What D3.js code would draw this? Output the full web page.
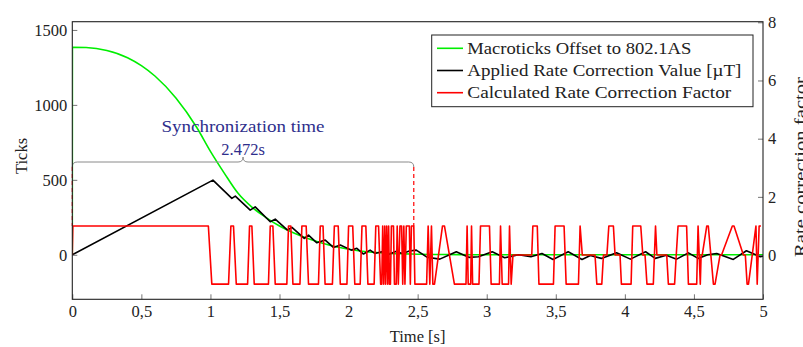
<!DOCTYPE html>
<html>
<head>
<meta charset="utf-8">
<script src="https://cdn.jsdelivr.net/npm/d3@7"></script>
<style>
  html, body { margin: 0; padding: 0; background: #fff; }
  svg { display: block; }
  text { font-family: "Liberation Serif", "DejaVu Serif", serif; fill: #222; }
</style>
</head>
<body>
<svg id="chart" width="803" height="347"></svg>
<script>
// ---------------- DATA ----------------
const xTicks = [0, 0.5, 1, 1.5, 2, 2.5, 3, 3.5, 4, 4.5, 5];
const xTickLabels = ["0", "0,5", "1", "1,5", "2", "2,5", "3", "3,5", "4", "4,5", "5"];
const yLeftTicks = [0, 500, 1000, 1500];
const yRightTicks = [0, 2, 4, 6, 8];

const seriesNames = ["Macroticks Offset to 802.1AS", "Applied Rate Correction Value [µT]", "Calculated Rate Correction Factor"];
const seriesColors = ["#00ee00", "#000000", "#ff0000"];

// Macroticks offset (green), [time s, ticks]
const offsetT = [0, 0.001, 0.1, 0.25, 0.4, 0.5, 0.6, 0.75, 0.9, 1.0, 1.1, 1.2, 1.3, 1.4, 1.5, 1.6, 1.7, 1.8, 1.9, 2.0, 2.1, 2.2, 2.3, 2.4, 2.5, 2.6, 2.8, 3.0, 5.0];
const offsetV = [0, 1385, 1383, 1363, 1315, 1262, 1191, 1046, 851, 690, 545, 410, 318, 250, 192, 147, 110, 80, 55, 37, 24, 15, 9, 6, 4, 2, 1, 0, 0];

// Applied rate correction value (black), [time s, µT]
const appliedT = [0, 1.018, 1.155, 1.18, 1.288, 1.324, 1.433, 1.469, 1.558, 1.59, 1.679, 1.71, 1.77, 1.831, 1.89, 1.94, 2.02, 2.06, 2.108, 2.156, 2.19, 2.24, 2.29, 2.34, 2.39, 2.44, 2.49, 2.57, 2.66, 2.78, 2.87, 2.94, 3.04, 3.13, 3.23, 3.32, 3.40, 3.48, 3.59, 3.69, 3.75, 3.83, 3.94, 4.04, 4.15, 4.22, 4.30, 4.375, 4.46, 4.53, 4.60, 4.665, 4.785, 4.88, 4.98, 5.0];
const appliedV = [0, 498, 376, 391, 298, 320, 220, 238, 165, 183, 109, 131, 80, 98, 49, 65, 31, 43, 5, 31, 9, 20, 2, 22, 8, 25, 31, -17, -29, 20, -17, -13, 20, -20, 0, -13, 9, -31, 20, -31, -5, -24, 13, -29, 20, -24, -3, -29, 13, -24, 0, 9, -31, 27, -13, -10];

// Calculated rate correction factor (red), [time s, factor]
const factorT = [0, 0.004, 0.985, 1.01,
  1.131, 1.148, 1.167, 1.187, 1.269, 1.283, 1.300, 1.317, 1.420, 1.433, 1.452, 1.469,
  1.553, 1.565, 1.582, 1.597, 1.648, 1.662, 1.693, 1.710, 1.782, 1.795, 1.815, 1.830,
  1.883, 1.897, 1.925, 1.940, 1.988, 2.000, 2.030, 2.045, 2.084, 2.097, 2.125, 2.140,
  2.185, 2.197, 2.217, 2.232,
  2.240, 2.247, 2.254, 2.262, 2.268, 2.276, 2.283, 2.290, 2.296, 2.303, 2.310, 2.325, 2.332, 2.345, 2.352, 2.360, 2.372, 2.384, 2.392, 2.400, 2.408, 2.418, 2.440, 2.447, 2.455, 2.472, 2.480,
  2.565, 2.576, 2.588, 2.600, 2.610, 2.622, 2.680, 2.694, 2.766, 2.780, 2.850, 2.858, 2.866, 2.884, 2.890, 2.898,
  2.944, 2.955, 3.020, 3.032, 3.092, 3.100, 3.112, 3.158, 3.165, 3.177, 3.190, 3.326, 3.334, 3.366, 3.378, 3.470, 3.483, 3.495, 3.560, 3.575,
  3.664, 3.676, 3.692, 3.710, 3.784, 3.797, 3.833, 3.845, 3.870, 3.884, 3.917, 3.929, 3.965, 3.975, 4.045, 4.057, 4.115, 4.130, 4.146, 4.160, 4.206, 4.222, 4.232, 4.242, 4.303, 4.315, 4.360, 4.372, 4.385, 4.447, 4.460, 4.520, 4.530, 4.546, 4.552, 4.560, 4.593, 4.604, 4.641, 4.653, 4.689, 4.700, 4.778, 4.790, 4.858, 4.872, 4.885, 4.895, 4.949, 4.958, 4.972, 4.985, 4.994, 5.0];
const factorV = [0, 1, 1, -1,
  -1, 1, 1, -1, -1, 1, 1, -1, -1, 1, 1, -1,
  -1, 1, 1, -1, -1, 1, 1, -1, -1, 1, 1, -1,
  -1, 1, 1, -1, -1, 1, 1, -1, -1, 1, 1, -1,
  -1, 1, 1, -1,
  -1, 1, -1, 1, -1, 1, -1, 1, -1, -1, 1, 1, -1, -1, 1, -1, 1, 1, -1, 1, -1, 1, 1, -1, 1, 1, -1,
  -1, 1, -1, 1, -1, -1, 1, 1, -1, -1, -1, 1, -1, -1, 1, -1,
  -1, 1, 1, -1, -1, 1, -1, -1, 1, -1, 0, 0, 1, 1, -1, -1, -1, 1, 1, -1,
  -1, 1, 0, 0, 0, -1, -1, 0, 0, 1, 1, 0, 0, -1, -1, 1, 1, 0, 0, -1, -1, 1, 0, 0, 0, -1, -1, 0, 1, 1, -1, -1, 1, -1, 0, 0, 1, 1, -1, -1, 0, 0, 1, 1, 0, 0, -1, -1, 1, -1, 1, 1];

const syncTime = 2.472;

// ---------------- LAYOUT ----------------
const svg = d3.select("#chart");
const L = 72.3, R = 763, T = 21.7, B = 299.3;
const x = d3.scaleLinear().domain([0, 5]).range([L, R]);
const yL = d3.scaleLinear().domain([-297, 1555]).range([B, T]);
const yR = d3.scaleLinear().domain([-1.52, 8.02]).range([B, T]);
const fs = 16.5;

const plot = svg.append("g");
svg.append("defs").append("clipPath").attr("id", "clip")
  .append("rect").attr("x", L).attr("y", T).attr("width", R - L).attr("height", B - T);

const lineL = d3.line().x(d => x(d[0])).y(d => yL(d[1]));
const lineR = d3.line().x(d => x(d[0])).y(d => yR(d[1]));

const greenData = offsetT.map((t, i) => [t, offsetV[i]]);
const blackData = appliedT.map((t, i) => [t, appliedV[i]]);
const redData = factorT.map((t, i) => [t, factorV[i]]);

const marks = plot.append("g").attr("clip-path", "url(#clip)");
marks.append("path").datum(greenData).attr("d", lineL.curve(d3.curveMonotoneX))
  .attr("fill", "none").attr("stroke", seriesColors[0]).attr("stroke-width", 1.6).attr("stroke-linejoin", "round");
lineL.curve(d3.curveLinear);
marks.append("path").datum(blackData).attr("d", lineL)
  .attr("fill", "none").attr("stroke", seriesColors[1]).attr("stroke-width", 1.6).attr("stroke-linejoin", "round");

// sync-time annotation (brace + dashed markers)
const braceY = 162, braceTip = 157, braceEnd = 167;
const bx0 = x(0), bx1 = x(syncTime), bxm = x(syncTime / 2);
const p = d3.path();
p.moveTo(bx0, braceEnd);
p.quadraticCurveTo(bx0, braceY, bx0 + 5, braceY);
p.lineTo(bxm - 5, braceY);
p.quadraticCurveTo(bxm, braceY, bxm, braceTip);
p.quadraticCurveTo(bxm, braceY, bxm + 5, braceY);
p.lineTo(bx1 - 5, braceY);
p.quadraticCurveTo(bx1, braceY, bx1, braceEnd);
plot.append("path").attr("d", p.toString()).attr("fill", "none").attr("stroke", "#8a8a8a").attr("stroke-width", 1);
[0, syncTime].forEach(t => {
  plot.append("line").attr("x1", x(t)).attr("x2", x(t)).attr("y1", braceEnd).attr("y2", yR(1))
    .attr("stroke", "#ff0000").attr("stroke-width", 1.2).attr("stroke-dasharray", "4,3");
});
plot.append("text").attr("x", bxm).attr("y", 132).attr("text-anchor", "middle")
  .attr("font-size", fs).style("fill", "#2e2e8c").attr("textLength", 163).attr("lengthAdjust", "spacingAndGlyphs")
  .text("Synchronization time");
plot.append("text").attr("x", bxm).attr("y", 155).attr("text-anchor", "middle")
  .attr("font-size", fs).style("fill", "#2e2e8c")
  .text(syncTime.toFixed(3) + "s");

marks.append("path").datum(redData).attr("d", lineR)
  .attr("fill", "none").attr("stroke", seriesColors[2]).attr("stroke-width", 1.6).attr("stroke-linejoin", "round");

// ---------------- AXES ----------------
const axB = d3.axisBottom(x).tickValues(xTicks).tickFormat((d, i) => xTickLabels[i])
  .tickSizeInner(-5).tickSizeOuter(0).tickPadding(6);
const axLft = d3.axisLeft(yL).tickValues(yLeftTicks).tickFormat(d3.format("d"))
  .tickSizeInner(-5).tickSizeOuter(0).tickPadding(5);
const axRgt = d3.axisRight(yR).tickValues(yRightTicks).tickFormat(d3.format("d"))
  .tickSizeInner(-5).tickSizeOuter(0).tickPadding(5);

function styleAxis(g) {
  g.select(".domain").remove();
  g.selectAll(".tick line").attr("stroke", "#666").attr("stroke-width", 0.9);
  g.selectAll(".tick text").attr("font-size", fs).attr("font-family", "Liberation Serif, DejaVu Serif, serif").style("fill", "#222");
}
svg.append("g").attr("transform", `translate(0,${B})`).call(axB).call(styleAxis);
svg.append("g").attr("transform", `translate(${L},0)`).call(axLft).call(styleAxis);
svg.append("g").attr("transform", `translate(${R},0)`).call(axRgt).call(styleAxis);

svg.append("rect").attr("x", L).attr("y", T).attr("width", R - L).attr("height", B - T)
  .attr("fill", "none").attr("stroke", "#222").attr("stroke-width", 1.1);

// axis titles
svg.append("text").attr("x", (L + R) / 2).attr("y", 342).attr("text-anchor", "middle")
  .attr("font-size", fs).text("Time [s]");
svg.append("text").attr("transform", "translate(27,156) rotate(-90)").attr("text-anchor", "middle")
  .attr("font-size", fs).text("Ticks");
svg.append("text").attr("transform", "translate(806,167) rotate(-90)").attr("text-anchor", "middle")
  .attr("font-size", fs).attr("textLength", 180).attr("lengthAdjust", "spacingAndGlyphs").text("Rate correction factor");

// ---------------- LEGEND ----------------
const lg = svg.append("g");
lg.append("rect").attr("x", 431.7).attr("y", 35).attr("width", 321.3).attr("height", 71.7)
  .attr("fill", "#fff").attr("stroke", "#222").attr("stroke-width", 1);
const rowY = [48.3, 70.5, 92.7];
const textW = [224, 274, 264];
seriesNames.forEach((name, i) => {
  lg.append("line").attr("x1", 437).attr("x2", 463).attr("y1", rowY[i]).attr("y2", rowY[i])
    .attr("stroke", seriesColors[i]).attr("stroke-width", 1.6);
  lg.append("text").attr("x", 467.3).attr("y", rowY[i]).attr("dy", "0.35em")
    .attr("font-size", fs).attr("textLength", textW[i]).attr("lengthAdjust", "spacingAndGlyphs").text(name);
});
</script>
</body>
</html>
